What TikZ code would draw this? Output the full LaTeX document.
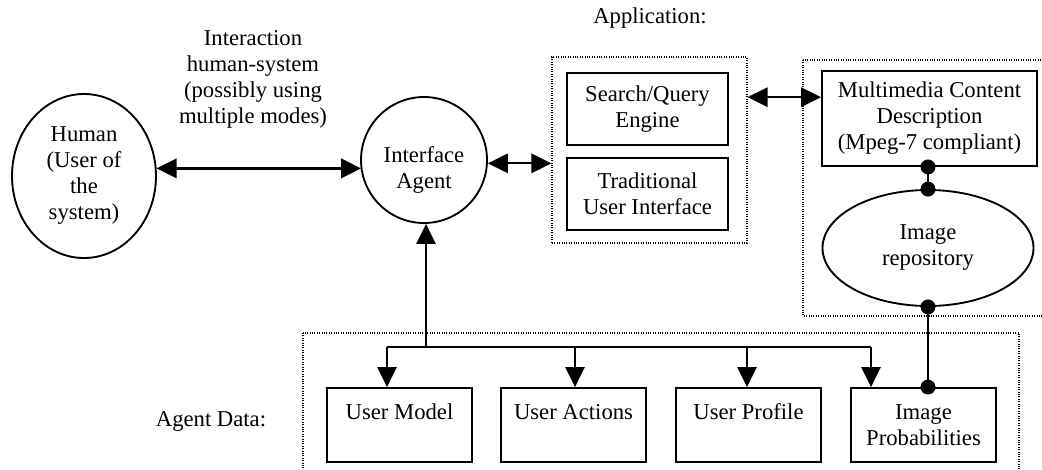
\documentclass[tikz,border=0pt]{standalone}
\usepackage{fontspec}
\setmainfont{Liberation Serif}
\usetikzlibrary{arrows.meta,shapes.geometric}

\tikzset{
  txt/.style={font=\fontsize{17}{19.5}\selectfont, align=center, inner sep=0pt},
  box/.style={txt, draw, line width=1.4pt, rectangle},
  databox/.style={box, minimum width=108.75pt, minimum height=55.5pt},
  appbox/.style={box, minimum width=120.75pt, minimum height=54pt},
  region/.style={draw, densely dotted, line width=0.8pt},
  link/.style={line width=1.3pt},
  tip/.style={-{Triangle[length=15pt,width=14.5pt]}},
  dtip/.style={{Triangle[length=15pt,width=14.5pt]}-{Triangle[length=15pt,width=14.5pt]}},
  dot/.style={fill=black},
}

\begin{document}
\begin{tikzpicture}[x=0.75pt, y=-0.75pt]
\useasboundingbox (0,0) rectangle (1042,469);

% containers
\node[region, rectangle, minimum width=146.25pt, minimum height=139.5pt, inner sep=0pt] (app) at (649.5,150) {};
\draw[region] (803,60) rectangle (1050,316);
\draw[region] (303,333) rectangle (1019,480);

% captions
\node[txt] (applbl) at (650,18) {Application:};
\node[txt] (datalbl) at (211,421) {Agent Data:};
\node[txt] (interlbl) at (253,79) {Interaction\\human-system\\(possibly using\\multiple modes)};

% human and agent
\node[txt, draw, ellipse, line width=1.4pt, minimum width=108pt, minimum height=123pt] (human) at (84,176) {Human\\(User of\\the\\system)};
\node[draw, circle, line width=1.4pt, minimum size=94.5pt, inner sep=0pt] (agent) at (424,160) {};
\node[txt] (agentlbl) at (424,170) {Interface\\Agent};

% application parts
\node[appbox] (search) at (647.5,109) {Search/Query\\Engine};
\node[appbox] (trad) at (647.5,194) {Traditional\\User Interface};

% content description and repository
\node[box, minimum width=161.25pt, minimum height=71.25pt] (mpeg) at (929.5,118.5) {Multimedia Content\\Description\\(Mpeg-7 compliant)};
\node[txt, draw, ellipse, line width=1.4pt, minimum width=158.25pt, minimum height=87pt] (repo) at (928,248) {Image\\repository};

% agent data boxes
\node[databox] (umodel) at (399.5,425) {User Model\\~};
\node[databox] (uact) at (573.5,425) {User Actions\\~};
\node[databox] (uprof) at (748.5,425) {User Profile\\~};
\node[databox] (improb) at (923.5,425) {Image\\Probabilities};

% human <-> agent
\draw[link, line width=2pt, dtip] (human.6) -- (human.6 -| agent.190);

% agent <-> application
\coordinate (aright) at (agent.-3);
\draw[link, dtip] (aright) -- (aright -| app.west);

% application <-> content description
\coordinate (mmtip) at ([yshift=16pt]mpeg.west);
\draw[link, dtip] (mmtip -| app.east) -- (mmtip);

% description -- repository
\coordinate (mmdot) at (mpeg.south -| repo.north);
\draw[link] (mmdot) -- (repo.north);
\fill[dot] (mmdot) circle (5.6pt);
\fill[dot] (repo.north) circle (5.6pt);

% repository -- image probabilities
\coordinate (pdot) at (improb.north -| repo.south);
\draw[link] (repo.south) -- (pdot);
\fill[dot] (repo.south) circle (5.6pt);
\fill[dot] (pdot) circle (5.6pt);

% agent data bus
\coordinate (bus) at (426,347);
\coordinate (busL) at (387,347);
\coordinate (busA) at (575,347);
\coordinate (busP) at (747,347);
\coordinate (busR) at (871,347);
\draw[link] (busL) -- (busR);
\draw[link, tip] (bus) -- (agent.south -| bus);
\draw[link, tip] (busL) -- (umodel.north -| busL);
\draw[link, tip] (busA) -- (uact.north -| busA);
\draw[link, tip] (busP) -- (uprof.north -| busP);
\draw[link, tip] (busR) -- (improb.north -| busR);
\end{tikzpicture}
\end{document}
